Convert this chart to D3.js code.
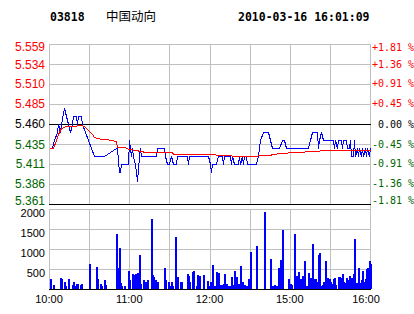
<!DOCTYPE html>
<html>
<head>
<meta charset="utf-8">
<script src="https://cdn.jsdelivr.net/npm/d3@7"></script>
<style>
    body { margin: 0; background: #fff; }
    svg { display: block; }
</style>
</head>
<body>
<div id="chart"></div>
<script>
// header
var stockCode = "03818", stockName = "中国动向", stamp = "2010-03-16 16:01:09";

var prevClose = 5.46;
var priceTicks = [5.559, 5.534, 5.510, 5.485, 5.460, 5.435, 5.411, 5.386, 5.361];
var pctTicks = ["+1.81 %", "+1.36 %", "+0.91 %", "+0.45 %", " 0.00 %", "-0.45 %", "-0.91 %", "-1.36 %", "-1.81 %"];
var volTicks = [2000, 1500, 1000, 500];
var timeTicks = [0, 60, 120, 180, 240];   // minutes of trading from 10:00
var timeLabels = ["10:00", "11:00", "12:00", "15:00", "16:00"];

// [minute, price]
var price = [
    [0,5.43],[2,5.43],[4,5.44],[6,5.45],[7,5.46],[8,5.45],[9,5.46],[11,5.48],[13,5.47],[14,5.46],
    [16,5.45],[17,5.46],[18,5.47],[20,5.47],[21,5.46],[22,5.47],[24,5.47],[25,5.46],[34,5.42],[41,5.42],
    [50,5.43],[51,5.43],[52,5.40],[53,5.40],[54,5.41],[59,5.41],[60,5.44],[61,5.42],[62,5.43],[63,5.42],
    [64,5.41],[65,5.40],[66,5.39],[67,5.42],[68,5.43],[69,5.42],[80,5.42],[81,5.43],[86,5.43],[87,5.42],
    [88,5.41],[90,5.41],[91,5.42],[93,5.41],[95,5.41],[96,5.42],[98,5.42],[103,5.42],[104,5.41],[105,5.42],
    [119,5.42],[120,5.41],[121,5.40],[122,5.41],[125,5.41],[126,5.42],[129,5.42],[130,5.41],[131,5.42],[135,5.42],
    [136,5.41],[137,5.42],[138,5.41],[141,5.41],[142,5.42],[143,5.41],[144,5.42],[145,5.41],[146,5.42],[147,5.42],
    [148,5.41],[155,5.41],[156,5.42],[158,5.44],[160,5.45],[164,5.45],[167,5.43],[172,5.43],[174,5.44],[176,5.44],
    [177,5.43],[194,5.43],[195,5.44],[197,5.45],[200,5.45],[201,5.43],[202,5.44],[203,5.45],[205,5.44],[212,5.44],
    [213,5.43],[214,5.44],[215,5.43],[216,5.44],[218,5.44],[219,5.43],[220,5.44],[222,5.44],[223,5.43],[224,5.43],
    [225,5.44],[226,5.42],[227,5.42],[228,5.44],[229,5.42],[230,5.43],[231,5.42],[232,5.43],[233,5.42],[234,5.43],
    [235,5.42],[236,5.43],[237,5.42],[238,5.43],[239,5.42],[240,5.43]
];

// [minute, average price]
var avgPrice = [
    [0,5.430],[3,5.430],[5,5.440],[7,5.448],[9,5.455],[13,5.457],[17,5.458],[24,5.459],[26,5.458],[29,5.453],
    [32,5.448],[34,5.444],[39,5.442],[42,5.442],[46,5.440],[50,5.439],[51,5.432],[57,5.431],[59,5.429],[66,5.428],
    [67,5.426],[73,5.425],[92,5.425],[93,5.423],[118,5.423],[142,5.420],[155,5.420],[157,5.422],[164,5.422],[173,5.424],
    [185,5.425],[198,5.426],[207,5.428],[240,5.428]
];

// [minute, volume]
var volume = [
    [1,250],[3,100],[8,275],[9,250],[11,180],[12,75],[14,250],[17,100],[18,180],[19,75],
    [20,120],[21,120],[23,100],[24,120],[30,625],[35,560],[36,250],[38,120],[39,75],[41,225],
    [42,100],[50,1375],[51,520],[52,1020],[53,140],[54,75],[56,75],[59,450],[60,225],[62,375],
    [63,350],[64,375],[65,180],[66,390],[67,850],[68,120],[70,225],[71,170],[72,180],[73,225],
    [76,1750],[77,350],[78,290],[79,225],[80,75],[81,180],[86,515],[87,225],[89,180],[90,75],
    [91,180],[92,75],[94,1310],[96,300],[98,170],[99,180],[103,375],[104,325],[105,170],[107,430],
    [108,450],[110,75],[111,350],[112,325],[115,350],[118,190],[119,75],[120,180],[121,180],[122,600],
    [123,75],[125,430],[126,410],[127,100],[128,100],[129,100],[130,120],[131,375],[132,120],[134,75],
    [135,75],[136,290],[137,100],[138,460],[139,120],[140,290],[141,120],[142,120],[143,575],[144,170],
    [146,100],[147,75],[149,250],[150,930],[155,1075],[161,1920],[165,740],[166,75],[167,75],[168,100],
    [169,75],[170,75],[171,515],[173,725],[174,1475],[179,250],[180,130],[181,100],[183,1375],[184,100],
    [185,325],[186,430],[188,240],[189,325],[190,100],[191,700],[192,75],[193,75],[194,410],[195,280],
    [196,240],[197,1125],[198,240],[199,240],[200,170],[201,850],[202,910],[203,75],[204,100],[205,170],
    [206,690],[207,280],[208,280],[209,240],[210,170],[211,130],[212,240],[213,280],[214,100],[216,300],
    [217,300],[218,280],[219,375],[220,170],[221,150],[222,280],[223,225],[224,325],[225,170],[226,280],
    [227,375],[228,1240],[229,150],[230,150],[231,515],[232,150],[233,225],[234,455],[235,170],[236,240],
    [237,490],[238,530],[239,700],[240,620]
];

(function () {
    var W = 414, H = 314;
    var gridColor = "#c0c0c0", upColor = "#ff0000", downColor = "#006600";
    var labelFont = "'Liberation Sans', Arial, sans-serif";
    var monoFont = "'DejaVu Sans Mono', monospace";

    var svg = d3.select("#chart").append("svg")
        .attr("width", W)
        .attr("height", H);

    var x = d3.scaleLinear().domain([0, 240]).range([49, 370]);
    var y = d3.scaleLinear().domain([5.361, 5.559]).range([204, 44]);
    var yv = d3.scaleLinear().domain([0, 2000]).range([289, 209]);

    function px(v) { return Math.round(v) + 0.5; }
    function tickColor(t) {
        if (Math.abs(t - prevClose) < 1e-6) return "#000";
        return t > prevClose ? upColor : downColor;
    }

    // header
    var head = svg.append("g").attr("font-size", "11.5px").attr("font-weight", "bold")
        .attr("font-family", monoFont);
    head.append("text").attr("x", 50).attr("y", 21).text(stockCode);
    head.append("text").attr("x", 238).attr("y", 21).text(stamp);
    svg.append("text")
        .attr("x", 106).attr("y", 21)
        .attr("font-family", "'Noto Sans CJK SC', sans-serif")
        .attr("font-size", "12.5px")
        .text(stockName);

    var grid = svg.append("g").attr("shape-rendering", "crispEdges");

    // vertical grid, both panels
    d3.range(0, 241, 30).forEach(function (m) {
        grid.append("line")
            .attr("x1", px(x(m))).attr("x2", px(x(m)))
            .attr("y1", 44).attr("y2", 204)
            .attr("stroke", gridColor);
        grid.append("line")
            .attr("x1", px(x(m))).attr("x2", px(x(m)))
            .attr("y1", 209).attr("y2", 289)
            .attr("stroke", gridColor);
    });
    // right border runs through both panels
    grid.append("line")
        .attr("x1", px(x(240))).attr("x2", px(x(240)))
        .attr("y1", 44).attr("y2", 290)
        .attr("stroke", gridColor);

    // horizontal price grid
    priceTicks.forEach(function (t, i) {
        var black = (i === priceTicks.length - 1) || Math.abs(t - prevClose) < 1e-6;
        grid.append("line")
            .attr("x1", 49).attr("x2", 371)
            .attr("y1", px(y(t))).attr("y2", px(y(t)))
            .attr("stroke", black ? "#000" : gridColor);
    });

    // horizontal volume grid
    volTicks.forEach(function (t) {
        grid.append("line")
            .attr("x1", 49).attr("x2", 371)
            .attr("y1", px(yv(t))).attr("y2", px(yv(t)))
            .attr("stroke", gridColor);
    });

    // volume bars
    svg.append("g").attr("shape-rendering", "crispEdges").selectAll("rect")
        .data(volume)
        .enter().append("rect")
        .attr("x", function (d) { return Math.round(x(d[0])); })
        .attr("width", 1.5)
        .attr("y", function (d) { return Math.round(yv(d[1])); })
        .attr("height", function (d) { return yv(0) - Math.round(yv(d[1])); })
        .attr("fill", "#0000ff");

    grid.append("line")
        .attr("x1", 49).attr("x2", 371)
        .attr("y1", px(yv(0))).attr("y2", px(yv(0)))
        .attr("stroke", "#000");

    // price and average lines
    var line = d3.line()
        .x(function (d) { return Math.round(x(d[0])) + 0.5; })
        .y(function (d) { return Math.round(y(d[1])) + 0.5; });

    svg.append("path")
        .datum(price)
        .attr("d", line)
        .attr("fill", "none")
        .attr("stroke", "#0000ff")
        .attr("stroke-width", 1)
        .attr("shape-rendering", "crispEdges");

    svg.append("path")
        .datum(avgPrice)
        .attr("d", line)
        .attr("fill", "none")
        .attr("stroke", "#ff0000")
        .attr("stroke-width", 1)
        .attr("shape-rendering", "crispEdges");

    // left price labels
    svg.append("g").selectAll("text")
        .data(priceTicks)
        .enter().append("text")
        .attr("x", 45)
        .attr("y", function (t) { return Math.min(Math.max(y(t), 46.5), 200.5) + 4.3; })
        .attr("text-anchor", "end")
        .attr("font-family", labelFont)
        .attr("font-size", "12px")
        .attr("fill", tickColor)
        .text(function (t) { return t.toFixed(3); });

    // right percent labels
    svg.append("g").selectAll("text")
        .data(priceTicks)
        .enter().append("text")
        .attr("x", 372)
        .attr("y", function (t) { return Math.min(Math.max(y(t), 47), 200) + 3.6; })
        .attr("font-family", monoFont)
        .attr("font-size", "10px")
        .attr("fill", tickColor)
        .style("white-space", "pre")
        .text(function (t, i) { return pctTicks[i]; });

    // volume labels
    svg.append("g").selectAll("text")
        .data(volTicks)
        .enter().append("text")
        .attr("x", 45)
        .attr("y", function (t) { return yv(t) + 7.5; })
        .attr("text-anchor", "end")
        .attr("font-family", labelFont)
        .attr("font-size", "11px")
        .text(function (t) { return t; });

    // time labels
    svg.append("g").selectAll("text")
        .data(timeTicks)
        .enter().append("text")
        .attr("x", function (m) { return Math.min(x(m), 366); })
        .attr("y", 303)
        .attr("text-anchor", "middle")
        .attr("font-family", labelFont)
        .attr("font-size", "11px")
        .text(function (m, i) { return timeLabels[i]; });
}());
</script>
</body>
</html>
